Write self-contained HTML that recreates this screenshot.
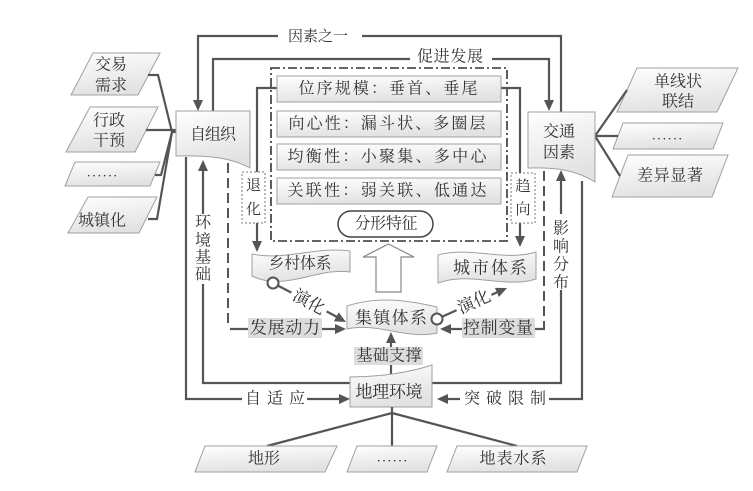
<!DOCTYPE html>
<html>
<head>
<meta charset="utf-8">
<style>
  html,body{margin:0;padding:0;background:#fff;}
  svg{display:block;}
  text{font-family:"Liberation Serif","Noto Serif CJK SC",serif;fill:#333;dominant-baseline:central;text-anchor:middle;}
  .ln{stroke:#555;stroke-width:2.2;fill:none;}
  .ah{fill:#555;stroke:none;}
  .shp{fill:url(#g1);stroke:#a0a0a0;stroke-width:1;}
  .lbl{fill:#dcdcdc;stroke:none;}
</style>
</head>
<body>
<svg width="753" height="491" viewBox="0 0 753 491" xmlns="http://www.w3.org/2000/svg">
  <defs>
    <linearGradient id="g1" x1="0" y1="0" x2="0.3" y2="1">
      <stop offset="0" stop-color="#ffffff"/>
      <stop offset="1" stop-color="#e2e2e2"/>
    </linearGradient>
  </defs>

  <!-- top loops -->
  <path class="ln" d="M561,112 V36 H362 M278,36 H198 V101"/>
  <polygon class="ah" points="193,100 203,100 198,111"/>
  <text x="318" y="37" font-size="15" textLength="60" lengthAdjust="spacing">因素之一</text>

  <path class="ln" d="M213,111 V59 H410 M492,59 H549 V101"/>
  <polygon class="ah" points="544,100 554,100 549,111"/>
  <text x="450" y="57" font-size="16" textLength="66" lengthAdjust="spacing">促进发展</text>

  <!-- left parallelograms -->
  <polygon class="shp" points="93,53 160,53 138,95 71,95"/>
  <polygon class="shp" points="90,107 158,107 135,152 66,152"/>
  <polygon class="shp" points="75,162 160,162 150,186 65,186"/>
  <polygon class="shp" points="88,197 157,197 139,233 68,233"/>
  <text x="111" y="65" font-size="16">交易</text>
  <text x="111" y="86" font-size="16">需求</text>
  <text x="109" y="121" font-size="16">行政</text>
  <text x="109" y="141" font-size="16">干预</text>
  <text x="102" y="173" font-size="14" textLength="30" lengthAdjust="spacing">......</text>
  <text x="102" y="221" font-size="16">城镇化</text>

  <!-- left tree -->
  <path class="ln" d="M148,75 H158 L172,132 H176 M146,130 H176 M155,175 H161 L172,132 M148,219 H157 L172,132"/>

  <!-- 自组织 box -->
  <path class="shp" d="M176,111 H250 V168 C232,158 210,155 176,156 Z"/>
  <text x="213" y="135" font-size="16" textLength="46" lengthAdjust="spacing">自组织</text>

  <!-- right parallelograms -->
  <polygon class="shp" points="637,68 738,68 717,112 617,112"/>
  <polygon class="shp" points="623,123 723,123 713,149 613,149"/>
  <polygon class="shp" points="628,155 728,155 712,197 612,197"/>
  <text x="678" y="82" font-size="16">单线状</text>
  <text x="678" y="102" font-size="16">联结</text>
  <text x="667" y="136" font-size="14" textLength="30" lengthAdjust="spacing">......</text>
  <text x="670" y="176" font-size="16" textLength="66" lengthAdjust="spacing">差异显著</text>

  <!-- right tree -->
  <path class="ln" d="M595,136 L627,90 M595,136 H618 M595,136 L620,176"/>

  <!-- 交通因素 box -->
  <path class="shp" d="M528,112 H595 V182 C576,170 555,167 528,168 Z"/>
  <text x="559" y="132" font-size="16">交通</text>
  <text x="559" y="153" font-size="16">因素</text>

  <!-- dash-dot box -->
  <rect x="271" y="68" width="236" height="173" fill="none" stroke="#333" stroke-width="1.6" stroke-dasharray="9,3,2,3"/>

  <!-- 退化 / 趋向 lines -->
  <path class="ln" d="M277,88 H257 V241"/>
  <polygon class="ah" points="252,241 262,241 257,252"/>
  <path class="ln" d="M501,88 H520 V237"/>
  <polygon class="ah" points="515,236 525,236 520,247"/>

  <!-- rows -->
  <rect class="shp" x="277" y="76" width="224" height="26"/>
  <rect class="shp" x="277" y="111" width="224" height="26"/>
  <rect class="shp" x="277" y="144" width="224" height="26"/>
  <rect class="shp" x="277" y="178" width="224" height="26"/>
  <text x="388" y="89" font-size="16" textLength="179" lengthAdjust="spacing">位序规模：垂首、垂尾</text>
  <text x="387" y="124" font-size="16" textLength="197" lengthAdjust="spacing">向心性：漏斗状、多圈层</text>
  <text x="387" y="157" font-size="16" textLength="199" lengthAdjust="spacing">均衡性：小聚集、多中心</text>
  <text x="387" y="191" font-size="16" textLength="199" lengthAdjust="spacing">关联性：弱关联、低通达</text>

  <rect x="338" y="211" width="95" height="26" rx="13" ry="13" fill="#fff" stroke="#444" stroke-width="1.5"/>
  <text x="386" y="224" font-size="16" textLength="63" lengthAdjust="spacing">分形特征</text>

  <!-- 退化 / 趋向 boxes -->
  <rect x="242" y="172" width="23" height="51" fill="#fff" stroke="#777" stroke-width="1" stroke-dasharray="2,2"/>
  <text x="253.5" y="186" font-size="15">退</text>
  <text x="253.5" y="210" font-size="15">化</text>
  <rect x="511" y="173" width="24" height="50" fill="#fff" stroke="#777" stroke-width="1" stroke-dasharray="2,2"/>
  <text x="523" y="187" font-size="15">趋</text>
  <text x="523" y="210" font-size="15">向</text>

  <!-- left column lines -->
  <path class="ln" d="M186,157 V399 H242 M307,399 H339"/>
  <polygon class="ah" points="339,394 339,404 350,399"/>
  <text x="275" y="399" font-size="16" textLength="60" lengthAdjust="spacing">自适应</text>

  <path class="ln" d="M350,383 H203 V284 M203,214 V171"/>
  <polygon class="ah" points="198,171 208,171 203,160"/>
  <text x="203" y="223" font-size="16">环</text>
  <text x="203" y="241" font-size="16">境</text>
  <text x="203" y="258" font-size="16">基</text>
  <text x="203" y="275" font-size="16">础</text>

  <path d="M228,163 V327" stroke="#555" stroke-width="2" fill="none" stroke-dasharray="10,5"/>
  <path class="ln" d="M230,329 H248 M322,329 H336"/>
  <polygon class="ah" points="335,324 335,334 346,329"/>
  <rect class="lbl" x="248" y="318" width="74" height="20"/>
  <text x="285" y="328" font-size="17" textLength="70" lengthAdjust="spacing">发展动力</text>

  <!-- right column lines -->
  <path class="ln" d="M432,383 H561 V290 M561,214 V181"/>
  <polygon class="ah" points="556,181 566,181 561,170"/>
  <text x="561" y="229" font-size="16">影</text>
  <text x="561" y="247" font-size="16">响</text>
  <text x="561" y="265" font-size="16">分</text>
  <text x="561" y="283" font-size="16">布</text>

  <path class="ln" d="M582,181 V399 H549 M460,399 H447"/>
  <polygon class="ah" points="448,394 448,404 437,399"/>
  <text x="505" y="399" font-size="16" textLength="82" lengthAdjust="spacing">突破限制</text>

  <path d="M544,171 V329" stroke="#555" stroke-width="2" fill="none" stroke-dasharray="10,5"/>
  <path class="ln" d="M535,329 H545 M462,329 H450"/>
  <polygon class="ah" points="451,324 451,334 440,329"/>
  <rect class="lbl" x="462" y="318" width="73" height="20"/>
  <text x="498" y="328" font-size="17" textLength="70" lengthAdjust="spacing">控制变量</text>

  <!-- tape shapes -->
  <path class="shp" d="M252,254 C285,261 318,246 350,251 L350,272 C318,267 285,292 252,276 Z"/>
  <text x="300" y="264" font-size="16" textLength="63" lengthAdjust="spacing">乡村体系</text>
  <path class="shp" d="M438,255 C470,246 505,262 536,252 L536,279 C505,289 470,271 438,283 Z"/>
  <text x="490" y="268" font-size="17" textLength="74" lengthAdjust="spacing">城市体系</text>

  <!-- hollow up arrow -->
  <polygon points="376,292 401,292 401,257 414,257 388.5,244 363,257 376,257" fill="#fff" stroke="#888" stroke-width="1.2"/>

  <!-- 集镇体系 -->
  <path class="shp" d="M347,306 C377,296 407,300 437,307 L437,333 C407,340 377,322 347,329 Z"/>
  <text x="391" y="318" font-size="17" textLength="72" lengthAdjust="spacing">集镇体系</text>

  <!-- 演化 left -->
  <circle cx="273" cy="283" r="5.5" fill="#fff" stroke="#555" stroke-width="2"/>
  <path class="ln" d="M277.9,285.6 L291.4,292.6 M326.6,311.4 L337,317"/>
  <polygon class="ah" points="333.9,321.2 338.7,312.4 346,322"/>
  <text x="309" y="302" font-size="17" transform="rotate(28 309 302)">演化</text>

  <!-- 演化 right -->
  <circle cx="437" cy="319" r="5.5" fill="#fff" stroke="#555" stroke-width="2"/>
  <path class="ln" d="M442,316.8 L456.6,310.3 M491.4,294.9 L497,292.4"/>
  <polygon class="ah" points="498.9,297 494.9,287.9 507,288"/>
  <text x="474" y="302" font-size="17" transform="rotate(-24 474 302)">演化</text>

  <!-- 基础支撑 -->
  <path class="ln" d="M391,377 V343"/>
  <polygon class="ah" points="386,343 396,343 391,332"/>
  <rect class="lbl" x="354" y="347" width="69" height="18"/>
  <text x="389" y="356" font-size="16" textLength="65" lengthAdjust="spacing">基础支撑</text>

  <!-- 地理环境 -->
  <path class="shp" d="M350,377 C378,377 408,373 432,365 V407 H350 Z"/>
  <text x="389" y="392" font-size="17" textLength="67" lengthAdjust="spacing">地理环境</text>

  <!-- bottom tree -->
  <path class="ln" d="M392,407 V446 M392,413 L267,446 M392,413 L517,446"/>
  <polygon class="shp" points="205,446 337,446 325,472 195,472"/>
  <polygon class="shp" points="357,446 437,446 427,472 347,472"/>
  <polygon class="shp" points="457,446 587,446 577,472 447,472"/>
  <text x="264" y="459" font-size="16">地形</text>
  <text x="392" y="458" font-size="14" textLength="30" lengthAdjust="spacing">......</text>
  <text x="513" y="459" font-size="16" textLength="67" lengthAdjust="spacing">地表水系</text>
</svg>
</body>
</html>
